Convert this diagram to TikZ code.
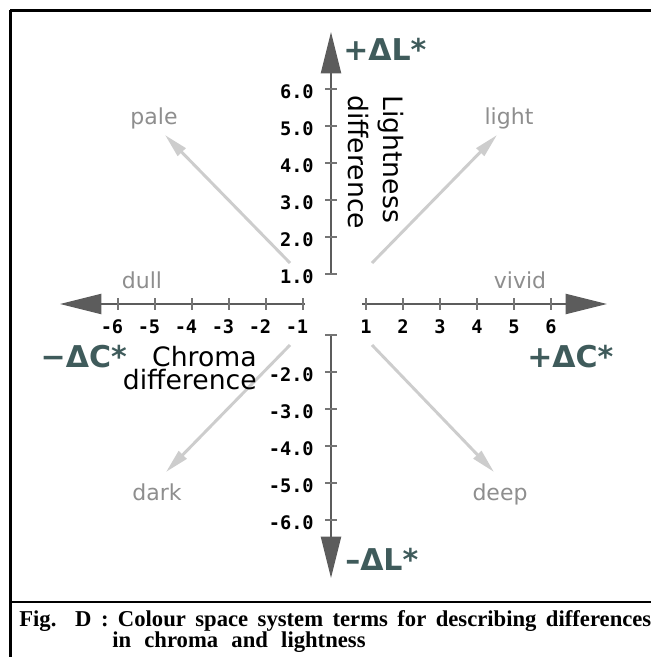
\documentclass[tikz,border=0pt]{standalone}
\usepackage{fontspec}
\setmainfont{Liberation Serif}
\newfontfamily\labelfont{DejaVu Sans}
\newfontfamily\monofont{DejaVu Sans Mono}
\usetikzlibrary{arrows.meta}
\definecolor{axisgray}{HTML}{5C5C5C}
\definecolor{termgray}{HTML}{8E8E8E}
\definecolor{arrowgray}{HTML}{CDCDCD}
\definecolor{deltateal}{HTML}{3F5B5B}
\tikzset{
    axisline/.style={axisgray, line width=1.5pt, -{Triangle[length=31pt,width=15pt]}},
    tickmark/.style={axisgray!85, line width=0.8pt},
    ticklabel/.style={inner sep=0pt, font=\monofont\bfseries\fontsize{14}{16}\selectfont},
    termlabel/.style={inner sep=0pt, termgray, font=\labelfont\fontsize{16.5}{20}\selectfont},
    termarrow/.style={arrowgray, line width=2.2pt, -{Triangle[length=18pt,width=8pt]}},
    deltalabel/.style={inner sep=0pt, deltateal, font=\labelfont\bfseries\fontsize{22.5}{27}\selectfont},
    axistitle/.style={inner sep=0pt, font=\labelfont\fontsize{20}{24}\selectfont},
    captionline/.style={anchor=base west, inner sep=0pt, font=\bfseries\fontsize{17}{19}\selectfont},
}
\begin{document}
\begin{tikzpicture}[x=0.75pt,y=-0.75pt]
    \useasboundingbox (0,0) rectangle (651,657);
    \fill[white] (0,0) rectangle (651,657);
    \draw[line width=1.6pt] (10,10.5) -- (651,10.5);
    \draw[line width=2pt] (10.5,9.5) -- (10.5,657);
    \draw[line width=2pt] (10,602) -- (651,602);

    \coordinate (paleS) at (290,263);  \coordinate (paleT) at (165,135);
    \coordinate (lightS) at (372,263); \coordinate (lightT) at (497,135);
    \coordinate (darkS) at (290,345);  \coordinate (darkT) at (166,472);
    \coordinate (deepS) at (372,345);  \coordinate (deepT) at (494,472);
    \foreach \t in {pale,light,dark,deep} {
        \draw[termarrow] (\t S) -- (\t T);
    }

    \coordinate (up0) at (331,274); \coordinate (uptip) at (331,32);
    \coordinate (dn0) at (331,335); \coordinate (dntip) at (331,578);
    \coordinate (lf0) at (305,304); \coordinate (lftip) at (60,304);
    \coordinate (rt0) at (362,304); \coordinate (rttip) at (607,304);
    \draw[axisline] (up0) -- (uptip);
    \draw[axisline] (dn0) -- (dntip);
    \draw[axisline] (lf0) -- (lftip);
    \draw[axisline] (rt0) -- (rttip);

    \foreach \y in {89,126,163,200,237,274,335,372,409,446,483,520} {
        \draw[tickmark] (325,\y) -- (337,\y);
    }
    \foreach \x in {118,155,192,229,266,303,366,403,440,477,514,551} {
        \draw[tickmark] (\x,298) -- (\x,310);
    }

    \foreach \y/\t [count=\i] in {89/6.0,126/5.0,163/4.0,200/3.0,237/2.0,274/1.0,372/-2.0,409/-3.0,446/-4.0,483/-5.0,520/-6.0} {
        \node[ticklabel, anchor=east] (vt\i) at (314,\y+3) {\t};
    }
    \foreach \x/\t [count=\i] in {118/-6,155/-5,192/-4,229/-3,266/-2,303/-1} {
        \node[ticklabel, anchor=east] (hn\i) at (\x+5.5,327) {\t};
    }
    \foreach \x [count=\i] in {366,403,440,477,514,551} {
        \node[ticklabel] (hp\i) at (\x,327) {\i};
    }

    \node[termlabel, anchor=base] (pale) at (154,124) {pale};
    \node[termlabel, anchor=base] (light) at (509,124) {light};
    \node[termlabel, anchor=base] (dull) at (142,288) {dull};
    \node[termlabel, anchor=base] (vivid) at (520,288) {vivid};
    \node[termlabel, anchor=base] (dark) at (157,500) {dark};
    \node[termlabel, anchor=base] (deep) at (500,500) {deep};

    \node[deltalabel, anchor=base west] (plusL) at (343,60) {+ΔL*};
    \node[deltalabel, anchor=base west] (minusL) at (345,570) {–ΔL*};
    \node[deltalabel, anchor=base east] (minusC) at (127,367) {−ΔC*};
    \node[deltalabel, anchor=base west] (plusC) at (527,367) {+ΔC*};

    \node[axistitle, anchor=base east] (chroma) at (257,366) {Chroma};
    \node[axistitle, anchor=base east] (chromadiff) at (257,389) {difference};
    \node[axistitle, rotate=-90, anchor=base west] (lightness) at (383,95) {Lightness};
    \node[axistitle, rotate=-90, anchor=base west] (lightdiff) at (348,95) {difference};

    \node[captionline] (caption1) at (19,626)
        {\makebox[474pt][s]{Fig. D : Colour space system terms for describing differences}};
    \node[captionline] (caption2) at (112,647)
        {\makebox[190pt][s]{in chroma and lightness}};
\end{tikzpicture}
\end{document}
